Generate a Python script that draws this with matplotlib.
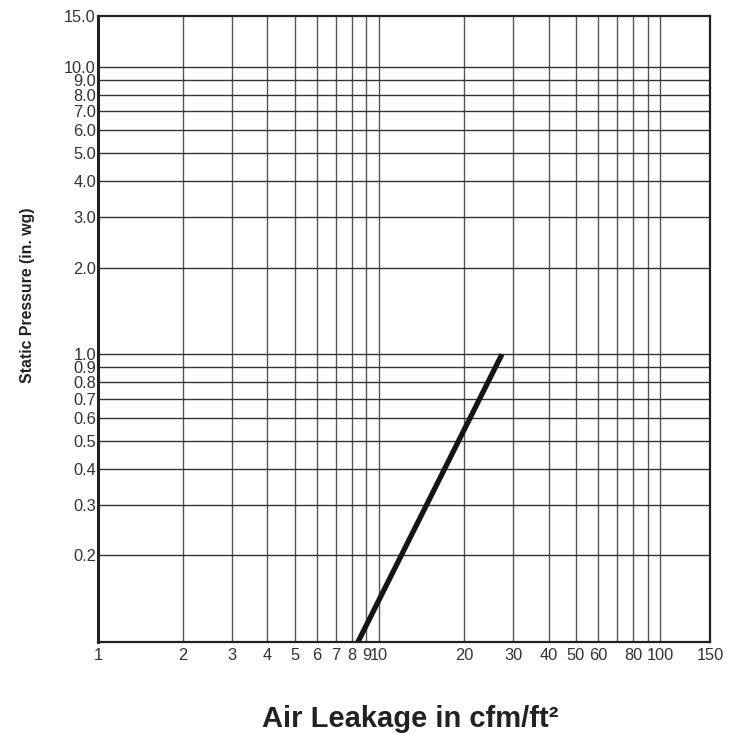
import matplotlib
matplotlib.use("Agg")
import matplotlib.pyplot as plt
from matplotlib.ticker import FixedLocator, FixedFormatter, NullLocator

plt.rcParams['font.family'] = ['Liberation Sans', 'DejaVu Sans']

# Data
leakage = [8.4, 27.3]          # cfm/ft²
pressure = [0.1, 1.0]          # in. wg

x_ticks = [1, 2, 3, 4, 5, 6, 7, 8, 9, 10, 20, 30, 40, 50, 60, 80, 100, 150]
x_tick_labels = ["1", "2", "3", "4", "5", "6", "7", "8", "9", "10",
                 "20", "30", "40", "50", "60", "80", "100", "150"]
x_grid = [2, 3, 4, 5, 6, 7, 8, 9, 10, 20, 30, 40, 50, 60, 70, 80, 90, 100]

y_ticks = [0.2, 0.3, 0.4, 0.5, 0.6, 0.7, 0.8, 0.9, 1.0,
           2.0, 3.0, 4.0, 5.0, 6.0, 7.0, 8.0, 9.0, 10.0, 15.0]
y_tick_labels = ["0.2", "0.3", "0.4", "0.5", "0.6", "0.7", "0.8", "0.9", "1.0",
                 "2.0", "3.0", "4.0", "5.0", "6.0", "7.0", "8.0", "9.0", "10.0", "15.0"]
y_grid = [0.2, 0.3, 0.4, 0.5, 0.6, 0.7, 0.8, 0.9, 1.0,
          2.0, 3.0, 4.0, 5.0, 6.0, 7.0, 8.0, 9.0, 10.0]

x_range = (1, 150)
y_range = (0.1, 15)

fig = plt.figure(figsize=(7.31, 7.34), dpi=100)
ax = fig.add_axes([98 / 731, 1 - 642 / 734, (710 - 98) / 731, (642 - 16) / 734])

ax.set_xscale('log')
ax.set_yscale('log')
ax.set_xlim(*x_range)
ax.set_ylim(*y_range)

for xv in x_grid:
    ax.axvline(xv, color='#555555', lw=1.0, zorder=1)
for yv in y_grid:
    ax.axhline(yv, color='#333333', lw=1.0, zorder=1)

ax.plot(leakage, pressure, color='#151515', lw=3.8, solid_capstyle='butt', zorder=3)

ax.xaxis.set_major_locator(FixedLocator(x_ticks))
ax.xaxis.set_major_formatter(FixedFormatter(x_tick_labels))
ax.xaxis.set_minor_locator(NullLocator())
ax.yaxis.set_major_locator(FixedLocator(y_ticks))
ax.yaxis.set_major_formatter(FixedFormatter(y_tick_labels))
ax.yaxis.set_minor_locator(NullLocator())

ax.tick_params(axis='both', which='both', length=0, labelsize=11.8, colors='#333333')
ax.tick_params(axis='x', pad=4)
ax.tick_params(axis='y', pad=1.5)

for side, sp in ax.spines.items():
    sp.set_color('#222222')
    sp.set_linewidth(1.6)
    sp.set_zorder(4)
ax.spines['left'].set_linewidth(2.2)

fig.text(28 / 731, 1 - 295 / 734, "Static Pressure (in. wg)", rotation=90,
         ha='center', va='center', fontsize=11.4, fontweight='bold', color='#222222')
fig.text(410 / 731, 1 - 727 / 734, "Air Leakage in cfm/ft²", ha='center',
         va='baseline', fontsize=21, fontweight='bold', color='#222222')

fig.savefig("out.png", dpi=100)
